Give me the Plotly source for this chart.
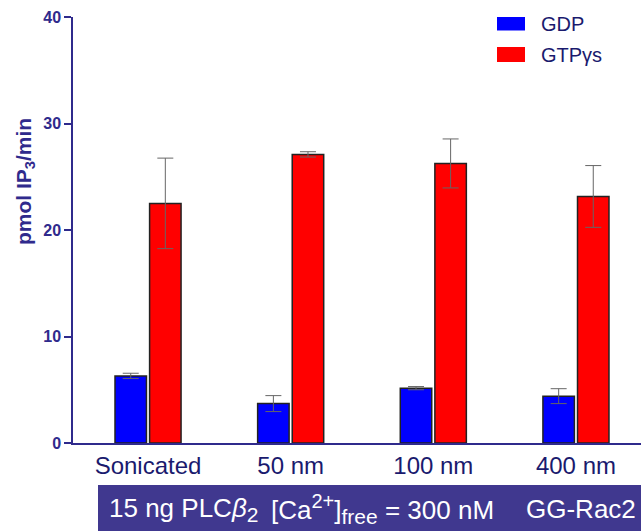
import plotly.graph_objects as go

categories = ["Sonicated", "50 nm", "100 nm", "400 nm"]
gdp_values = [6.3, 3.7, 5.15, 4.4]
gdp_errors = [0.25, 0.75, 0.15, 0.7]
gtp_values = [22.5, 27.1, 26.25, 23.15]
gtp_errors = [4.25, 0.25, 2.3, 2.9]
y_ticks = [0, 10, 20, 30, 40]
series_names = ["GDP", "GTPγs"]
series_colors = ["#0000ff", "#ff0000"]

NAVY = "#2f2a8c"
TEXT_NAVY = "#1a1a6e"
FONT = "Liberation Sans, Arial, sans-serif"

fig = go.Figure()
for name, color, vals, errs in zip(series_names, series_colors,
                                   [gdp_values, gtp_values], [gdp_errors, gtp_errors]):
    fig.add_trace(go.Bar(
        name=name, x=categories, y=vals,
        marker=dict(color=color, line=dict(color="#222222", width=1.5)),
        error_y=dict(type="data", array=errs, color="#666666", thickness=1, width=8),
    ))

W, H = 641, 531
ml, mr, mt, mb = 73, 0, 17, 88
pw, ph = W - ml - mr, H - mt - mb

def px(x):
    return (x - ml) / pw

def py(y):
    return (H - mb - y) / ph

shapes = [dict(
    type="rect", xref="paper", yref="paper",
    x0=px(98), x1=1.0, y0=py(531), y1=py(485),
    fillcolor="#40388f", line=dict(width=0), layer="above",
)]
annotations = [
    dict(text="<b>pmol IP<sub>3</sub>/min</b>", textangle=-90,
         xref="paper", yref="paper", x=px(25), y=py(182),
         xanchor="center", yanchor="middle",
         showarrow=False, font=dict(size=21, color=NAVY, family=FONT)),
    dict(text="15 ng PLC<i>β</i><sub><span style=\"font-size:21px\">2</span></sub>",
         xref="paper", yref="paper",
         x=px(107), y=py(509), xanchor="left", yanchor="middle",
         showarrow=False, font=dict(size=26, color="white", family=FONT)),
    dict(text="[Ca<sup><span style=\"font-size:20px\">2+</span></sup>]"
              "<sub><span style=\"font-size:21px\">free</span></sub> = 300 nM",
         xref="paper", yref="paper",
         x=px(269), y=py(509), xanchor="left", yanchor="middle",
         showarrow=False, font=dict(size=26, color="white", family=FONT)),
    dict(text="GG-Rac2", xref="paper", yref="paper",
         x=px(638), y=py(509), xanchor="right", yanchor="middle",
         showarrow=False, font=dict(size=26, color="white", family=FONT)),
]
# legend (custom, larger swatches like the reference)
legend_rows = [(17, 30.5, 23.5), (47, 62, 54.5)]
for (y0, y1, yc), name, color in zip(legend_rows, series_names, series_colors):
    shapes.append(dict(type="rect", xref="paper", yref="paper",
                       x0=px(497), x1=px(525), y0=py(y1), y1=py(y0),
                       fillcolor=color, line=dict(width=0)))
    annotations.append(dict(text=name, xref="paper", yref="paper",
                            x=px(539), y=py(yc), xanchor="left", yanchor="middle",
                            showarrow=False,
                            font=dict(size=20, color=TEXT_NAVY, family=FONT)))

fig.update_layout(
    width=W, height=H,
    margin=dict(l=ml, r=mr, t=mt, b=mb, pad=0),
    plot_bgcolor="white", paper_bgcolor="white",
    barmode="group", bargap=0.515, bargroupgap=0.09,
    font=dict(family=FONT, color=NAVY),
    showlegend=False,
    xaxis=dict(
        type="category", range=[-0.526, 3.456],
        showline=True, linecolor=NAVY, linewidth=1.5,
        ticks="", showgrid=False, zeroline=False,
        tickfont=dict(size=24, color=TEXT_NAVY, family=FONT),
        fixedrange=True,
    ),
    yaxis=dict(
        range=[0, 40], tickvals=y_ticks,
        showline=True, linecolor=NAVY, linewidth=1.5,
        ticks="outside", ticklen=7, tickcolor=NAVY, tickwidth=1.5,
        tickfont=dict(size=16, color=NAVY, family=FONT, weight="bold"),
        showgrid=False, zeroline=False,
    ),
    shapes=shapes,
    annotations=annotations,
)

fig.write_html("out.html")
